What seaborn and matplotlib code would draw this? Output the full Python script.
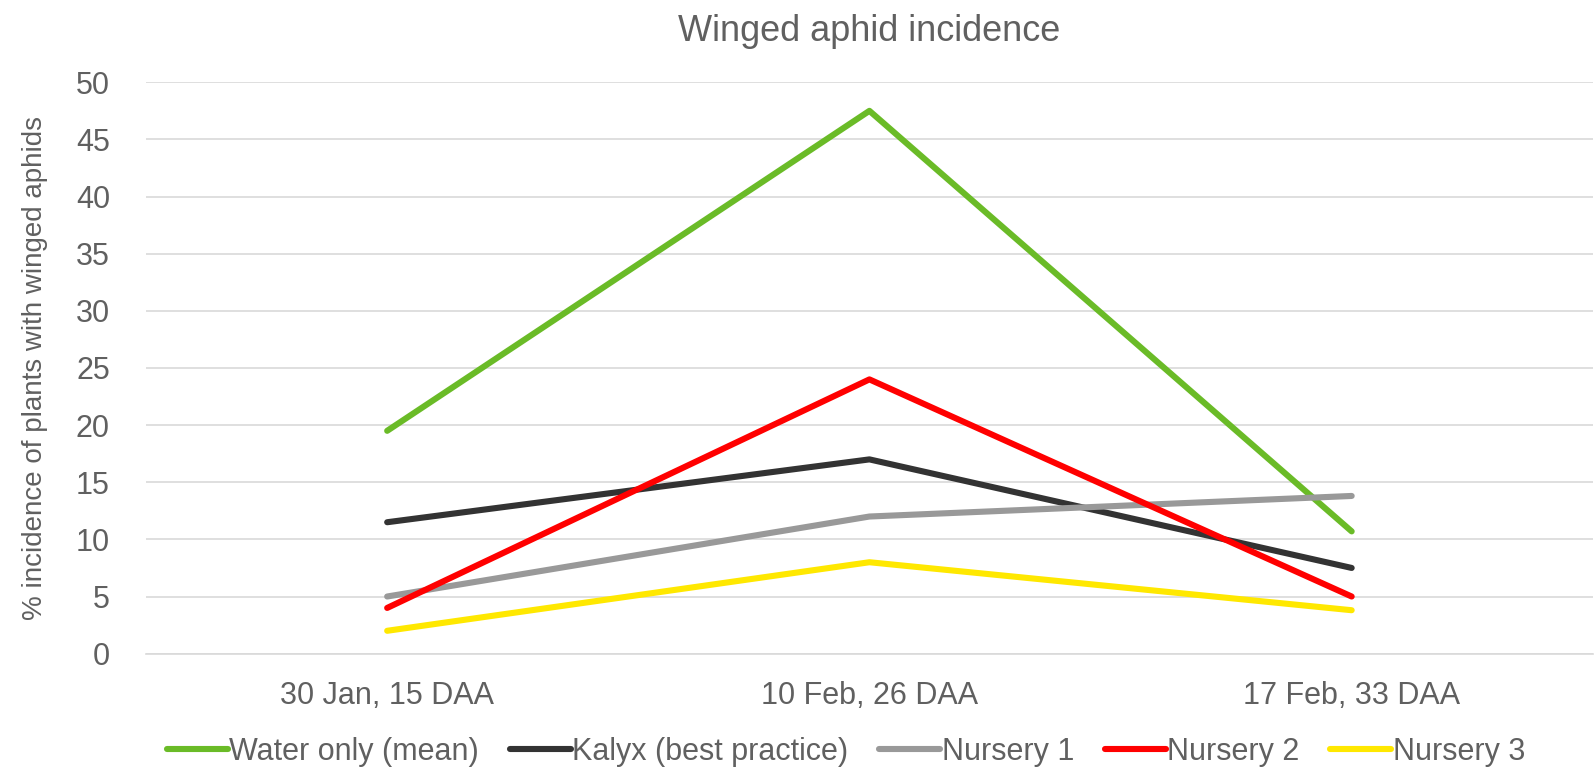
import numpy as np
import pandas as pd
import matplotlib.pyplot as plt
import seaborn as sns

dates = ["30 Jan, 15 DAA", "10 Feb, 26 DAA", "17 Feb, 33 DAA"]
water = [19.5, 47.5, 10.7]
kalyx = [11.5, 17.0, 7.5]
nursery1 = [5.0, 12.0, 13.8]
nursery2 = [4.0, 24.0, 5.0]
nursery3 = [2.0, 8.0, 3.8]

series = {
    "Water only (mean)": water,
    "Kalyx (best practice)": kalyx,
    "Nursery 1": nursery1,
    "Nursery 2": nursery2,
    "Nursery 3": nursery3,
}
colors = ["#6ABB27", "#333333", "#999999", "#FF0000", "#FFE800"]

rows = []
for name, vals in series.items():
    for i, v in enumerate(vals):
        rows.append({"x": i, "date": dates[i], "value": v, "series": name})
df = pd.DataFrame(rows)

sns.set_style("white")
plt.rcParams['font.family'] = ['Liberation Sans', 'DejaVu Sans']
text_col = "#606060"

fig = plt.figure(figsize=(15.96, 7.69), dpi=100)
ax = fig.add_axes([0.0915, 0.150, 0.9065, 0.743])

sns.lineplot(data=df, x="x", y="value", hue="series", palette=colors,
             linewidth=4.4, ax=ax, legend=True, solid_capstyle="round")

ax.set_xlim(-0.5, 2.5)
ax.set_ylim(0, 50)
ax.set_yticks(range(0, 51, 5))
ax.set_xticks(range(len(dates)))
ax.set_xticklabels(dates)
ax.grid(axis="y", color="#D9D9D9", linewidth=1.2)
ax.set_axisbelow(True)
for s in ["top", "right", "left"]:
    ax.spines[s].set_visible(False)
ax.spines["bottom"].set_color("#D9D9D9")
ax.spines["bottom"].set_linewidth(1.2)
ax.tick_params(axis="both", length=0, labelsize=22, labelcolor=text_col)
ax.tick_params(axis="y", pad=26)
ax.tick_params(axis="x", pad=20)
ax.set_xlabel("")
ax.set_ylabel("% incidence of plants with winged aphids", fontsize=20, color=text_col, labelpad=20)
ax.set_title("Winged aphid incidence", fontsize=26, color=text_col, pad=30)

handles, labels = ax.get_legend_handles_labels()
ax.get_legend().remove()
leg = fig.legend(handles, labels, loc="center", bbox_to_anchor=(0.53, 0.022), ncol=5, frameon=False,
                 fontsize=22, handlelength=2.0, handletextpad=0.05, columnspacing=1.0,
                 labelcolor=text_col)
for h in leg.get_lines():
    h.set_linewidth(4.4)

fig.savefig("out.png", dpi=100)
